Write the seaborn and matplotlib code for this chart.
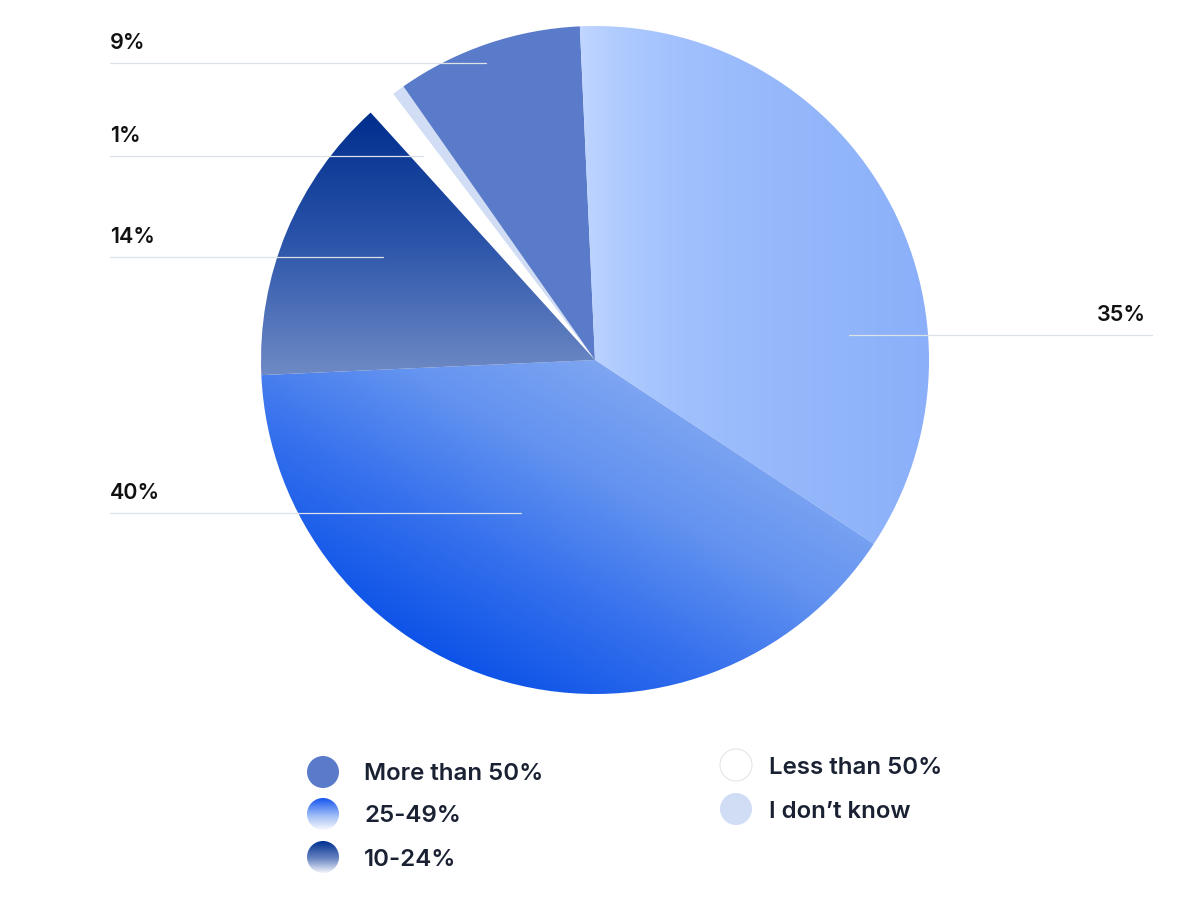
import numpy as np
import matplotlib
matplotlib.use("Agg")
import matplotlib.pyplot as plt
import seaborn as sns
from matplotlib.colors import LinearSegmentedColormap
from matplotlib.patches import Circle

# Slices in clockwise order, starting just left of 12 o'clock
slice_names = ["35%", "40%", "14%", "Less than 50%", "I don't know", "More than 50%"]
values = [35, 40, 14, 1.4, 0.6, 9]
value_labels = ["35%", "40%", "14%", "1%", "", "9%"]

legend_left = ["More than 50%", "25-49%", "10-24%"]
legend_right = ["Less than 50%", "I don\u2019t know"]

sns.set_theme(style="white")
plt.rcParams["font.family"] = ["Inter", "DejaVu Sans"]

W, H = 1200, 916
fig = plt.figure(figsize=(W / 100, H / 100), dpi=100)
ax = fig.add_axes([0, 0, 1, 1])

cx, cy, R = 595, H - 360, 334

flat = ["#ffffff", "#ffffff", "#ffffff", "#ffffff", "#d0ddf5", "#5a7bca"]
wedges, _ = ax.pie(values, startangle=92.6, counterclock=False,
                   center=(cx, cy), radius=R, colors=flat,
                   wedgeprops=dict(linewidth=0, antialiased=True), frame=True)


def grad_fill(patch, stops, direction, bbox):
    # gradient over bbox in normalised coords, direction = (du, dv)
    x0, x1, y0, y1 = bbox
    xs = np.linspace(0, 1, 400)
    ys = np.linspace(0, 1, 400)
    U, V = np.meshgrid(xs, ys)
    du, dv = direction
    t = (U * du + V * dv)
    t = (t - t.min()) / (t.max() - t.min())
    cmap = LinearSegmentedColormap.from_list("g", stops)
    im = ax.imshow(t, cmap=cmap, extent=(x0, x1, y0, y1), origin="lower",
                   vmin=0, vmax=1, interpolation="bilinear", aspect="auto",
                   zorder=patch.get_zorder())
    im.set_clip_path(patch)
    patch.set_facecolor("none")


# 35% – horizontal light gradient
grad_fill(wedges[0],
          [(0, "#c0d5ff"), (0.12, "#aecafe"), (0.3, "#a0c0fd"), (0.55, "#97b9fb"), (1, "#8bb0f9")],
          (1, 0), (580, cx + R, cy - R, cy + R))
# 40% – bottom-left to top-right
grad_fill(wedges[1],
          [(0, "#0040e4"), (0.2, "#0d53e8"), (0.4, "#3570ed"), (0.6, "#6393f0"),
           (0.85, "#89adf2"), (1, "#9ebbf3")],
          (1, 1), (cx - R, cx + 280, cy - R, cy))
# 14% – vertical navy gradient
grad_fill(wedges[2],
          [(0, "#6e8ac5"), (0.5, "#2c55aa"), (1, "#002e8d")],
          (0, 1), (cx - R, cx, cy - 15, H - 112))

# Leader lines and value labels (layout positions in pixels from top)
label_line_y = [335, 513, 257, 156, None, 63]
label_line_end = [849, 521, 383, 423, None, 486]
line_col = "#dde1e8"
for lab, ly, lx in zip(value_labels, label_line_y, label_line_end):
    if not lab:
        continue
    y = H - ly
    if lx > cx + 100:
        ax.plot([lx, 1152], [y, y], color=line_col, lw=0.9, zorder=5)
        ax.text(1146, y + 14, lab, ha="right", va="baseline", fontsize=15.5,
                fontweight=600, color="#111111")
    else:
        ax.plot([110, lx], [y, y], color=line_col, lw=0.9, zorder=5)
        ax.text(110, y + 14, lab, ha="left", va="baseline", fontsize=15.5,
                fontweight=600, color="#111111")


def legend_dot(x, y, r, face=None, stops=None, edge=None):
    c = Circle((x, y), r, facecolor=face if face else "none",
               edgecolor=edge if edge else "none", lw=0.8, zorder=6)
    ax.add_patch(c)
    if stops:
        cmap = LinearSegmentedColormap.from_list("l", stops)
        t = np.linspace(0, 1, 200)[:, None] * np.ones((1, 10))
        im = ax.imshow(t, cmap=cmap, extent=(x - r, x + r, y - r, y + r),
                       origin="lower", vmin=0, vmax=1, aspect="auto",
                       interpolation="bilinear", zorder=6)
        im.set_clip_path(c)


txt_col = "#1a2133"
left_y = [772, 814, 857]
left_styles = [dict(face="#5a7bca"),
               dict(stops=[(0, "#f7f9fe"), (0.45, "#9fbdf6"), (1, "#1556ef")]),
               dict(stops=[(0, "#f2f4fa"), (0.45, "#6a86c3"), (1, "#00308f")])]
for name, ly, st in zip(legend_left, left_y, left_styles):
    legend_dot(323, H - ly, 16, **st)
    ax.text(364, H - ly, name, ha="left", va="center_baseline", fontsize=17.3,
            fontweight=600, color=txt_col)

right_y = [765, 809]
right_styles = [dict(face="#ffffff", edge="#e4e6eb"), dict(face="#d0ddf5")]
for name, ly, st in zip(legend_right, right_y, right_styles):
    legend_dot(736, H - ly, 16, **st)
    ax.text(769, H - ly, name, ha="left", va="center_baseline", fontsize=17.3,
            fontweight=600, color=txt_col)

ax.set_xlim(0, W)
ax.set_ylim(0, H)
ax.set_axis_off()

fig.savefig("out.png", dpi=100, facecolor="white")
